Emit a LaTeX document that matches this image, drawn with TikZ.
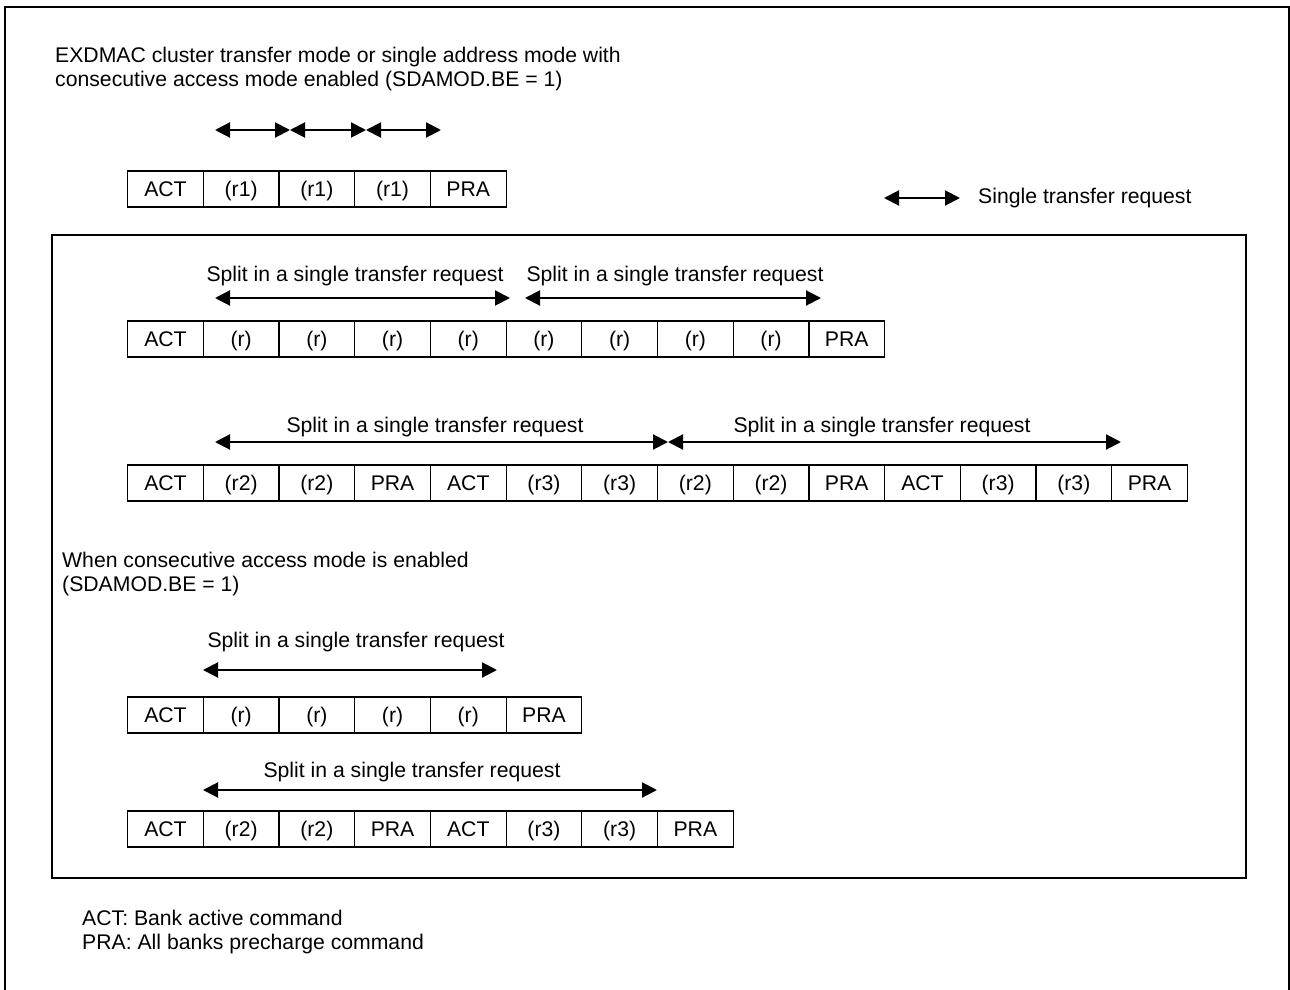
\documentclass[tikz,border=0pt]{standalone}
\usepackage{fontspec}
\setmainfont{Liberation Sans}
\usetikzlibrary{arrows.meta}
\tikzset{
  txt/.style={inner sep=0pt, font=\fontsize{21.2}{24}\selectfont, align=left},
  cell/.style={draw, line width=1.2pt, minimum width=75.7pt, minimum height=36pt, inner sep=0pt, text height=17pt, text depth=1.8pt, anchor=west, font=\fontsize{21.2}{24}\selectfont},
  req/.style={line width=2pt, {Triangle[length=15pt,width=15pt]}-{Triangle[length=15pt,width=15pt]}},
  frame/.style={line width=2pt},
  inframe/.style={line width=1.5pt}
}
\begin{document}
\begin{tikzpicture}[x=1pt,y=-1pt]
\useasboundingbox (0,0) rectangle (1290,990);
% outer frame (open at bottom)
\draw[frame] (5,990) -- (5,7) -- (1289,7) -- (1289,990);
% inner frame
\draw[inframe] (52,235) rectangle (1246,878);

% heading
\node[txt, anchor=west] (head) at (55,69) {EXDMAC cluster transfer mode or single address mode with\\consecutive access mode enabled (SDAMOD.BE = 1)};

% row a
\foreach \t [count=\i] in {ACT,{(r1)},{(r1)},{(r1)},PRA}
  \node[cell] (a\i) at ({127+(\i-1)*75.7},189) {\t};
\coordinate (pa1) at (215,130);
\coordinate (pa2) at (290,130);
\coordinate (pa3) at (366,130);
\coordinate (pa4) at (441,130);
\draw[req] (pa1) -- (pa2);
\draw[req] (pa2) -- (pa3);
\draw[req] (pa3) -- (pa4);

% legend
\coordinate (la) at (884,198);
\coordinate (lb) at (960,198);
\draw[req] (la) -- (lb);
\node[txt, anchor=west] (leg) at (978,198) {Single transfer request};

% row b
\foreach \t [count=\i] in {ACT,{(r)},{(r)},{(r)},{(r)},{(r)},{(r)},{(r)},{(r)},PRA}
  \node[cell] (b\i) at ({127+(\i-1)*75.7},339) {\t};
\coordinate (pb1) at (215,298);
\coordinate (pb2) at (510,298);
\coordinate (pb3) at (525,298);
\coordinate (pb4) at (821,298);
\draw[req] (pb1) -- (pb2);
\draw[req] (pb3) -- (pb4);
\node[txt] (lb1) at (355,276) {Split in a single transfer request};
\node[txt] (lb2) at (675,276) {Split in a single transfer request};

% row c
\foreach \t [count=\i] in {ACT,{(r2)},{(r2)},PRA,ACT,{(r3)},{(r3)},{(r2)},{(r2)},PRA,ACT,{(r3)},{(r3)},PRA}
  \node[cell] (c\i) at ({127+(\i-1)*75.7},483) {\t};
\coordinate (pc1) at (215,442);
\coordinate (pc2) at (668,442);
\coordinate (pc3) at (1121,442);
\draw[req] (pc1) -- (pc2);
\draw[req] (pc2) -- (pc3);
\node[txt] (lc1) at (435,427) {Split in a single transfer request};
\node[txt] (lc2) at (882,427) {Split in a single transfer request};

% consecutive access mode
\node[txt, anchor=west] (cam) at (62,574.5) {When consecutive access mode is enabled\\(SDAMOD.BE = 1)};

% row d
\foreach \t [count=\i] in {ACT,{(r)},{(r)},{(r)},{(r)},PRA}
  \node[cell] (d\i) at ({127+(\i-1)*75.7},715) {\t};
\coordinate (pd1) at (203,670);
\coordinate (pd2) at (497,670);
\draw[req] (pd1) -- (pd2);
\node[txt] (ld) at (356,642) {Split in a single transfer request};

% row e
\foreach \t [count=\i] in {ACT,{(r2)},{(r2)},PRA,ACT,{(r3)},{(r3)},PRA}
  \node[cell] (e\i) at ({127+(\i-1)*75.7},829) {\t};
\coordinate (pe1) at (203,790);
\coordinate (pe2) at (657,790);
\draw[req] (pe1) -- (pe2);
\node[txt] (le) at (412,772) {Split in a single transfer request};

% footer
\node[txt, anchor=west] (foot) at (82,932.5) {ACT: Bank active command\\PRA: All banks precharge command};
\end{tikzpicture}
\end{document}
